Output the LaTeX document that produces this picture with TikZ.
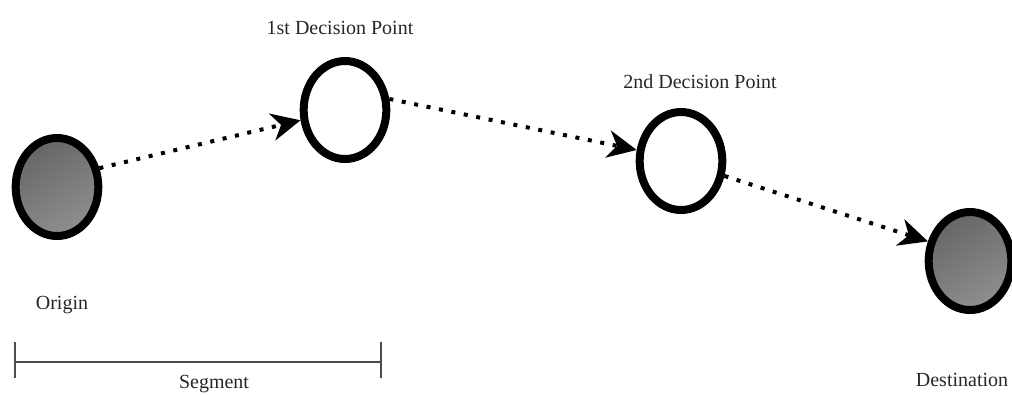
\documentclass[tikz,border=0pt]{standalone}
\usepackage{fontspec}
\setmainfont{Liberation Serif}
\usetikzlibrary{shapes.geometric,arrows.meta}
\begin{document}
\begin{tikzpicture}[x=0.75pt,y=-0.75pt,
  pt/.style={ellipse,draw=black,line width=6pt,minimum width=62pt,minimum height=73.5pt,inner sep=0pt},
  endpt/.style={pt,left color=black!60,right color=black!44,shading angle=30},
  decpt/.style={pt,fill=white},
  flow/.style={line width=3pt,dash pattern=on 3pt off 6.5pt,
    -{Stealth[length=22pt,width=21pt,inset=7pt,line width=0pt]}},
  lbl/.style={font=\fontsize{15pt}{17pt}\selectfont,text=black!85,inner sep=0pt},
  seg/.style={draw=black!70,line width=1.1pt}]
\clip (0,0) rectangle (1012,394);
\node[endpt] (o) at (57,187) {};
\node[decpt] (d1) at (345,110) {};
\node[decpt] (d2) at (681,161) {};
\node[endpt] (dst) at (970,261) {};
\draw[flow] (o.24) -- (d1.193);
\draw[flow] (d1.14) -- (d2.166);
\draw[flow] (d2.-19) -- (dst.155);
\node[lbl] (l1) at (340,28) {1st Decision Point};
\node[lbl] (l2) at (700,82) {2nd Decision Point};
\node[lbl] (lo) at (62,305) {Origin};
\node[lbl] (ld) at (962,380) {Destination};
\coordinate (sa) at (15,362);
\coordinate (sb) at (381,362);
\draw[seg] (sa) -- (sb);
\draw[seg] ([yshift=-12pt]sa) -- ([yshift=15pt]sa);
\draw[seg] ([yshift=-12pt]sb) -- ([yshift=15pt]sb);
\node[lbl] (ls) at (214,384) {Segment};
\end{tikzpicture}
\end{document}
